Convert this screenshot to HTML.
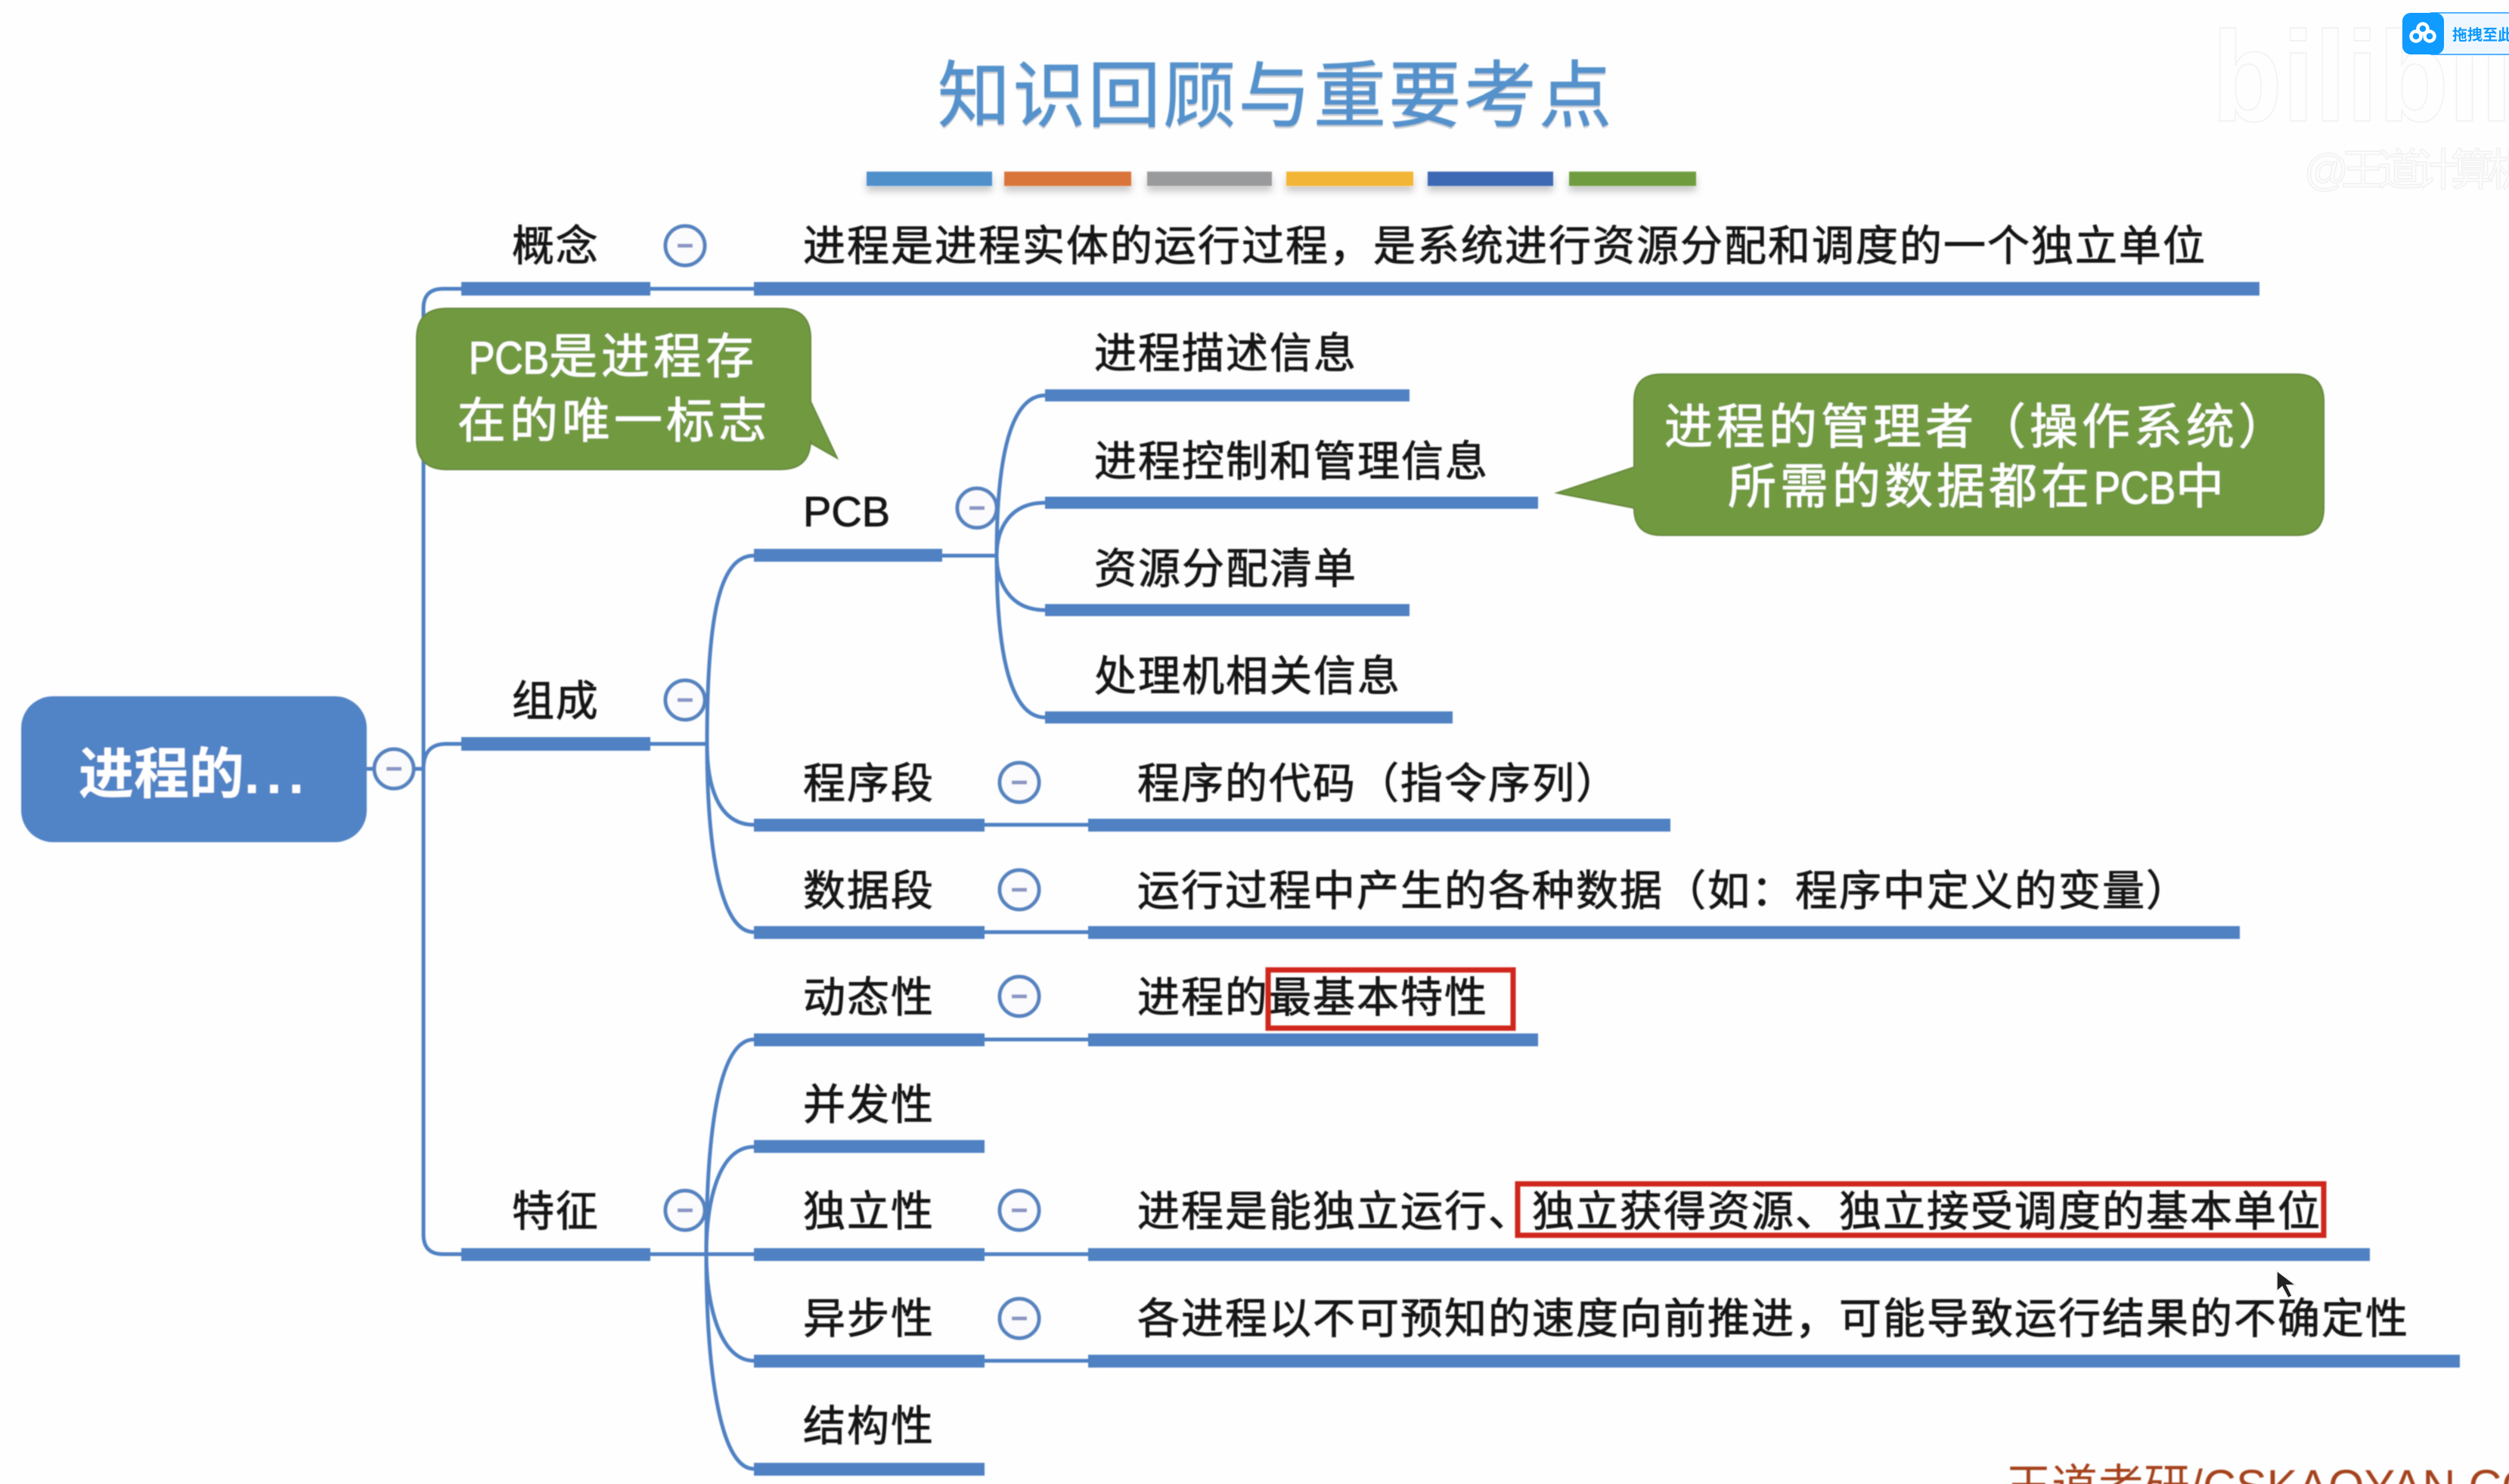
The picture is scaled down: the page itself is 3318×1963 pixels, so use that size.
<!DOCTYPE html>
<html lang="zh">
<head>
<meta charset="utf-8">
<title>知识回顾与重要考点</title>
<style>
html,body{margin:0;padding:0;background:#fefefe;width:3318px;height:1963px;overflow:hidden}
svg{display:block}
text{font-family:"Liberation Sans","Noto Sans CJK SC","WenQuanYi Zen Hei",sans-serif}
.t{font-size:56px;fill:#161616;stroke:#161616;stroke-width:.9px;letter-spacing:2px}
.w{font-size:64px;fill:#fff;stroke:#fff;stroke-width:.7px;letter-spacing:5px}
.b{fill:#4f81c3}
.l{fill:none;stroke:#4f81c3;stroke-width:5}
.c{fill:#fbfbfd;stroke:#5583c0;stroke-width:5}
.d{stroke:#8a96c4;stroke-width:5}
</style>
</head>
<body>
<svg xmlns="http://www.w3.org/2000/svg" width="3318" height="1963" viewBox="0 0 3318 1963">
<defs>
<filter id="sh" x="-10%" y="-50%" width="120%" height="250%"><feDropShadow dx="0" dy="7" stdDeviation="5" flood-color="#000" flood-opacity=".22"/></filter>
<filter id="soft" x="-2%" y="-2%" width="104%" height="104%"><feGaussianBlur stdDeviation="0.7"/></filter>
</defs>
<rect width="3318" height="1963" fill="#fefefe"/>

<!-- watermark -->
<g fill="#fefefe" stroke="#f3f3f4" stroke-width="2">
<text x="2925" y="160" style="font-size:170px;font-weight:bold" textLength="440" lengthAdjust="spacingAndGlyphs">bilibili</text>
<text x="3047" y="245" style="font-size:58px" textLength="300" lengthAdjust="spacing">@王道计算机</text>
</g>

<g filter="url(#soft)">
<!-- title -->
<text x="1240" y="163" style="font-size:96px;letter-spacing:3.4px" fill="#b9bcc2" opacity=".7">知识回顾与重要考点</text>
<text x="1240" y="160" style="font-size:96px;letter-spacing:3.4px" fill="#5592cc" stroke="#5592cc" stroke-width="1">知识回顾与重要考点</text>

<!-- color bars -->
<g filter="url(#sh)">
<rect x="1146" y="227" width="166" height="19" fill="#5090cb"/>
<rect x="1328" y="227" width="168" height="19" fill="#d9743a"/>
<rect x="1517" y="227" width="165" height="19" fill="#999a9b"/>
<rect x="1701" y="227" width="168" height="19" fill="#f2b534"/>
<rect x="1888" y="227" width="166" height="19" fill="#3d68b4"/>
<rect x="2075" y="227" width="168" height="19" fill="#6f9c40"/>
</g>

<!-- connectors -->
<path class="l" d="M485 1017H560"/>
<path class="l" d="M610 382H586Q560 382 560 408V1633Q560 1659 586 1659H610"/>
<path class="l" d="M560 1017C560 995 570 984 590 984H610"/>
<path class="l" d="M860 382H997"/>
<path class="l" d="M860 984H935"/>
<path class="l" d="M935 984C935 820 950 735 997 735"/>
<path class="l" d="M935 984C935 1040 950 1091 997 1091"/>
<path class="l" d="M935 984C935 1110 950 1233 997 1233"/>
<path class="l" d="M1246 735H1318"/>
<path class="l" d="M1318 735C1318 610 1335 523 1382 523"/>
<path class="l" d="M1318 735C1318 700 1335 665 1382 665"/>
<path class="l" d="M1318 735C1318 770 1335 807 1382 807"/>
<path class="l" d="M1318 735C1318 860 1335 949 1382 949"/>
<path class="l" d="M1302 1091H1439M1302 1233H1439M1302 1375H1439M1302 1659H1439M1302 1800H1439"/>
<path class="l" d="M860 1659H997"/>
<path class="l" d="M934 1659C934 1500 950 1375 997 1375"/>
<path class="l" d="M934 1659C934 1590 950 1517 997 1517"/>
<path class="l" d="M934 1659C934 1720 950 1800 997 1800"/>
<path class="l" d="M934 1659C934 1800 950 1943 997 1943"/>

<!-- bars -->
<rect class="b" x="610" y="373" width="250" height="18"/>
<rect class="b" x="997" y="373" width="1991" height="18"/>
<rect class="b" x="610" y="975" width="250" height="18"/>
<rect class="b" x="610" y="1651" width="250" height="17"/>
<rect class="b" x="997" y="726" width="249" height="17"/>
<rect class="b" x="1382" y="515" width="482" height="16"/>
<rect class="b" x="1382" y="657" width="652" height="16"/>
<rect class="b" x="1382" y="799" width="482" height="16"/>
<rect class="b" x="1382" y="941" width="539" height="16"/>
<rect class="b" x="997" y="1083" width="305" height="17"/>
<rect class="b" x="1439" y="1083" width="770" height="17"/>
<rect class="b" x="997" y="1225" width="305" height="17"/>
<rect class="b" x="1439" y="1225" width="1523" height="17"/>
<rect class="b" x="997" y="1367" width="305" height="17"/>
<rect class="b" x="1439" y="1367" width="595" height="17"/>
<rect class="b" x="997" y="1508" width="305" height="17"/>
<rect class="b" x="997" y="1651" width="305" height="17"/>
<rect class="b" x="1439" y="1651" width="1695" height="17"/>
<rect class="b" x="997" y="1792" width="305" height="17"/>
<rect class="b" x="1439" y="1792" width="1814" height="17"/>
<rect class="b" x="997" y="1935" width="305" height="17"/>

<!-- root -->
<rect x="28" y="921" width="457" height="193" rx="42" fill="#5184c6"/>
<text x="104" y="1049" fill="#fff" style="font-size:73px;font-weight:bold">进程的<tspan style="letter-spacing:9px">...</tspan></text>

<!-- expanders -->
<g>
<circle class="c" cx="521" cy="1017" r="26"/><path class="d" d="M511 1017H531"/>
<circle class="c" cx="906" cy="325" r="26"/><path class="d" d="M896 325H916"/>
<circle class="c" cx="906" cy="926" r="26"/><path class="d" d="M896 926H916"/>
<circle class="c" cx="906" cy="1601" r="26"/><path class="d" d="M896 1601H916"/>
<circle class="c" cx="1292" cy="672" r="26"/><path class="d" d="M1282 672H1302"/>
<circle class="c" cx="1348" cy="1035" r="26"/><path class="d" d="M1338 1035H1358"/>
<circle class="c" cx="1348" cy="1177" r="26"/><path class="d" d="M1338 1177H1358"/>
<circle class="c" cx="1348" cy="1318" r="26"/><path class="d" d="M1338 1318H1358"/>
<circle class="c" cx="1348" cy="1601" r="26"/><path class="d" d="M1338 1601H1358"/>
<circle class="c" cx="1348" cy="1744" r="26"/><path class="d" d="M1338 1744H1358"/>
</g>

<!-- labels -->
<text class="t" x="677" y="345" style="letter-spacing:1.8px">概念</text>
<text class="t" x="677" y="947" style="letter-spacing:1.8px">组成</text>
<text class="t" x="677" y="1622" style="letter-spacing:1.8px">特征</text>
<text class="t" x="1062" y="696" style="letter-spacing:0">PCB</text>
<text class="t" x="1062" y="1056">程序段</text>
<text class="t" x="1062" y="1198">数据段</text>
<text class="t" x="1062" y="1339">动态性</text>
<text class="t" x="1062" y="1481">并发性</text>
<text class="t" x="1062" y="1622">独立性</text>
<text class="t" x="1062" y="1764">异步性</text>
<text class="t" x="1062" y="1906">结构性</text>

<text class="t" x="1062" y="345">进程是进程实体的运行过程，是系统进行资源分配和调度的一个独立单位</text>
<text class="t" x="1447" y="487">进程描述信息</text>
<text class="t" x="1447" y="630">进程控制和管理信息</text>
<text class="t" x="1447" y="772">资源分配清单</text>
<text class="t" x="1447" y="914">处理机相关信息</text>
<text class="t" x="1504" y="1056">程序的代码（指令序列）</text>
<text class="t" x="1504" y="1198">运行过程中产生的各种数据（如：程序中定义的变量）</text>
<text class="t" x="1504" y="1339">进程的最基本特性</text>
<text class="t" x="1504" y="1622">进程是能独立运行、独立获得资源、独立接受调度的基本单位</text>
<text class="t" x="1504" y="1764">各进程以不可预知的速度向前推进，可能导致运行结果的不确定性</text>

<!-- red boxes -->
<rect x="1677" y="1283" width="324" height="77" fill="none" stroke="#d0281e" stroke-width="7"/>
<rect x="2007" y="1566" width="1066" height="68" fill="none" stroke="#d0281e" stroke-width="7"/>

<!-- callout 1 -->
<path d="M591 408H1032Q1072 408 1072 448V531L1107 606L1072 586V581Q1072 621 1032 621H591Q551 621 551 581V448Q551 408 591 408Z" fill="#719a40" stroke="#66883c" stroke-width="2"/>
<text x="620" y="494" fill="#fff" stroke="#fff" stroke-width="1" style="font-size:60px" textLength="106" lengthAdjust="spacingAndGlyphs">PCB</text>
<text class="w" x="726" y="494">是进程存</text>
<text class="w" x="605" y="579">在的唯一标志</text>

<!-- callout 2 -->
<path d="M2197 495H3037Q3073 495 3073 531V672Q3073 708 3037 708H2197Q2161 708 2161 672L2059 652L2161 618V531Q2161 495 2197 495Z" fill="#719a40" stroke="#66883c" stroke-width="2"/>
<text class="w" x="2201" y="587">进程的管理者（操作系统）</text>
<text class="w" x="2285" y="666">所需的数据都在</text>
<text x="2769" y="666" fill="#fff" stroke="#fff" stroke-width="1" style="font-size:60px" textLength="108" lengthAdjust="spacingAndGlyphs">PCB</text>
<text class="w" x="2877" y="666">中</text>

<!-- bottom credit -->
<text x="2652" y="1987" fill="#a5431e" style="font-size:61px">王道考研/CSKAOYAN.COM</text>
</g>

<!-- cursor -->
<path d="M3011 1681V1708L3018 1702L3026 1717L3031 1714L3024 1700L3036 1700Z" fill="#222" stroke="#eee" stroke-width="1.5"/>

<!-- netdisk widget -->
<rect x="3215" y="17" width="110" height="55" fill="#eef7ff" stroke="#1e9bff" stroke-width="1.5"/>
<rect x="3177" y="17" width="55" height="55" rx="11" fill="#0f9bff"/>
<g fill="none" stroke="#fff" stroke-width="4.5">
<circle cx="3204" cy="38" r="6.5"/>
<circle cx="3195" cy="48" r="6.5"/>
<circle cx="3213" cy="48" r="6.5"/>
</g>
<text x="3243" y="53" fill="#0c9aff" style="font-size:20px;font-weight:bold">拖拽至此</text>
</svg>
</body>
</html>
